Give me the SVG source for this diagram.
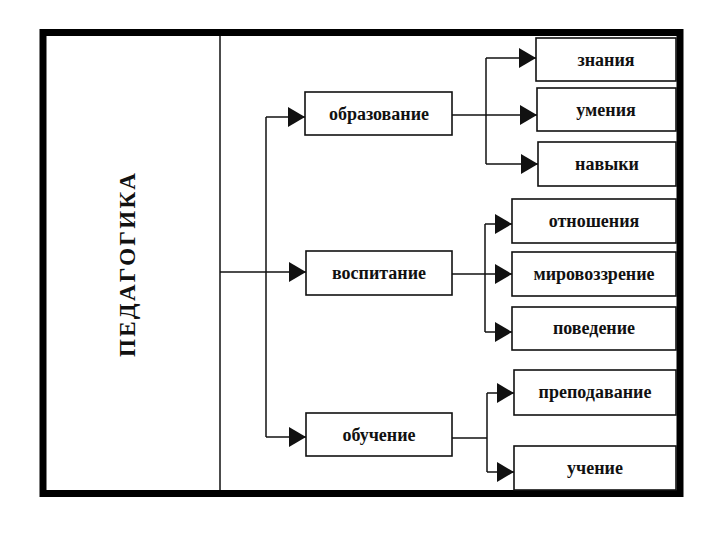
<svg xmlns="http://www.w3.org/2000/svg" width="720" height="540" viewBox="0 0 720 540">
<style>
.box{fill:#fff;stroke:#111;stroke-width:1.6}
.lbl{font-family:"Liberation Serif","DejaVu Serif",serif;font-weight:bold;font-size:18px;fill:#111;text-anchor:middle}
.title{font-family:"Liberation Serif","DejaVu Serif",serif;font-weight:bold;font-size:23px;fill:#111;text-anchor:middle}
.con{fill:none;stroke:#111;stroke-width:1.5}
</style>
<defs>
<marker id="arr" viewBox="0 0 17 20" refX="17" refY="10" markerWidth="17" markerHeight="20" markerUnits="userSpaceOnUse" orient="auto">
<path d="M0,0 L17,10 L0,20 z" fill="#111"/>
</marker>
</defs>
<rect x="0" y="0" width="720" height="540" fill="#fff"/>
<g id="frame">
<rect x="43" y="32.5" width="637" height="461" fill="#fff" stroke="#000" stroke-width="7"/>
</g>
<g id="pedagogika">
<line x1="220" y1="36" x2="220" y2="490" stroke="#111" stroke-width="1.5"/>
<text class="title" transform="translate(135,265) rotate(-90)" textLength="184" lengthAdjust="spacing">ПЕДАГОГИКА</text>
</g>
<g id="connectors">
<path class="con" d="M220,272 H306" marker-end="url(#arr)"/>
<path class="con" d="M266,117 V437"/>
<path class="con" d="M266,117 H305" marker-end="url(#arr)"/>
<path class="con" d="M266,437 H306" marker-end="url(#arr)"/>
<path class="con" d="M452,115 H537" marker-end="url(#arr)"/>
<path class="con" d="M486,58 V164"/>
<path class="con" d="M486,58 H536" marker-end="url(#arr)"/>
<path class="con" d="M486,164 H538" marker-end="url(#arr)"/>
<path class="con" d="M452,274 H512" marker-end="url(#arr)"/>
<path class="con" d="M485,224 V332"/>
<path class="con" d="M485,224 H512" marker-end="url(#arr)"/>
<path class="con" d="M485,332 H512" marker-end="url(#arr)"/>
<path class="con" d="M452,438 H487"/>
<path class="con" d="M487,393 V472"/>
<path class="con" d="M487,393 H514" marker-end="url(#arr)"/>
<path class="con" d="M487,472 H514" marker-end="url(#arr)"/>
</g>
<g id="obrazovanie"><rect class="box" x="305" y="92" width="147" height="43"/><text class="lbl" x="379" y="120">образование</text></g>
<g id="vospitanie"><rect class="box" x="306" y="251" width="146" height="44"/><text class="lbl" x="379" y="279">воспитание</text></g>
<g id="obuchenie"><rect class="box" x="306" y="413" width="146" height="43"/><text class="lbl" x="379" y="441">обучение</text></g>
<g id="znaniya"><rect class="box" x="536" y="38" width="140" height="43"/><text class="lbl" x="606" y="66">знания</text></g>
<g id="umeniya"><rect class="box" x="537" y="88" width="139" height="43"/><text class="lbl" x="606" y="116">умения</text></g>
<g id="navyki"><rect class="box" x="538" y="142" width="138" height="44"/><text class="lbl" x="607" y="170">навыки</text></g>
<g id="otnosheniya"><rect class="box" x="512" y="199" width="164" height="44"/><text class="lbl" x="594" y="227">отношения</text></g>
<g id="mirovozzrenie"><rect class="box" x="512" y="252" width="164" height="44"/><text class="lbl" x="594" y="280">мировоззрение</text></g>
<g id="povedenie"><rect class="box" x="512" y="307" width="164" height="43"/><text class="lbl" x="594" y="334">поведение</text></g>
<g id="prepodavanie"><rect class="box" x="514" y="370" width="162" height="45"/><text class="lbl" x="595" y="398">преподавание</text></g>
<g id="uchenie"><rect class="box" x="514" y="446" width="162" height="44"/><text class="lbl" x="595" y="474">учение</text></g>
</svg>
